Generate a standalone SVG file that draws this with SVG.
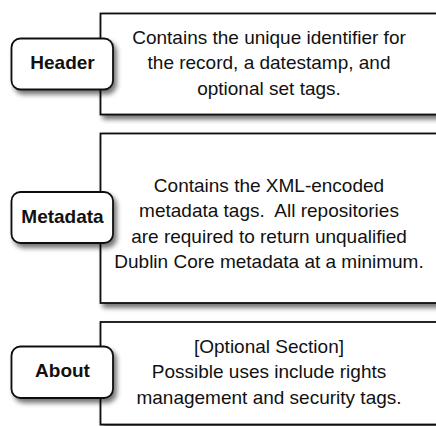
<svg xmlns="http://www.w3.org/2000/svg" width="436" height="426" viewBox="0 0 436 426">
<defs>
<filter id="sh" x="-10%" y="-10%" width="130%" height="140%">
<feGaussianBlur in="SourceAlpha" stdDeviation="2.5"/>
<feOffset dx="3" dy="4" result="b"/>
<feComponentTransfer><feFuncA type="linear" slope="0.55"/></feComponentTransfer>
<feMerge><feMergeNode/><feMergeNode in="SourceGraphic"/></feMerge>
</filter>
<style>
.box{fill:#fff;stroke:#111;stroke-width:1.8}
.lbl{fill:#fff;stroke:#111;stroke-width:1.8}
.t{font-family:"Liberation Sans",Arial,Helvetica,sans-serif;font-size:19px;fill:#111;text-anchor:middle}
.b{font-family:"Liberation Sans",Arial,Helvetica,sans-serif;font-size:19px;font-weight:bold;fill:#111;text-anchor:middle}
</style>
</defs>
<rect width="436" height="426" fill="#fff"/>
<g id="header-section">
<rect class="box" x="100.5" y="13.5" width="340" height="101" filter="url(#sh)"/>
<text class="t" x="269" y="43.5">Contains the unique identifier for</text>
<text class="t" x="269" y="69">the record, a datestamp, and</text>
<text class="t" x="269" y="94.5">optional set tags.</text>
</g>
<g id="header">
<rect class="lbl" x="11.5" y="38.5" width="101.5" height="51" rx="9" filter="url(#sh)"/>
<text class="b" x="62.5" y="69">Header</text>
</g>
<g id="metadata-section">
<rect class="box" x="100.5" y="133.5" width="340" height="169.5" filter="url(#sh)"/>
<text class="t" x="269" y="191.5">Contains the XML-encoded</text>
<text class="t" x="269" y="217" xml:space="preserve">metadata tags.  All repositories</text>
<text class="t" x="269" y="242.5">are required to return unqualified</text>
<text class="t" x="269" y="268">Dublin Core metadata at a minimum.</text>
</g>
<g id="metadata">
<rect class="lbl" x="11.5" y="192" width="101.5" height="51" rx="9" filter="url(#sh)"/>
<text class="b" x="62.5" y="223">Metadata</text>
</g>
<g id="about-section">
<rect class="box" x="100.5" y="322" width="340" height="102.5" filter="url(#sh)"/>
<text class="t" x="269" y="352.5">[Optional Section]</text>
<text class="t" x="269" y="378">Possible uses include rights</text>
<text class="t" x="269" y="403.5">management and security tags.</text>
</g>
<g id="about">
<rect class="lbl" x="11.5" y="346.5" width="101.5" height="51.5" rx="9" filter="url(#sh)"/>
<text class="b" x="62.5" y="377">About</text>
</g>
<g id="connectors"/>
</svg>
